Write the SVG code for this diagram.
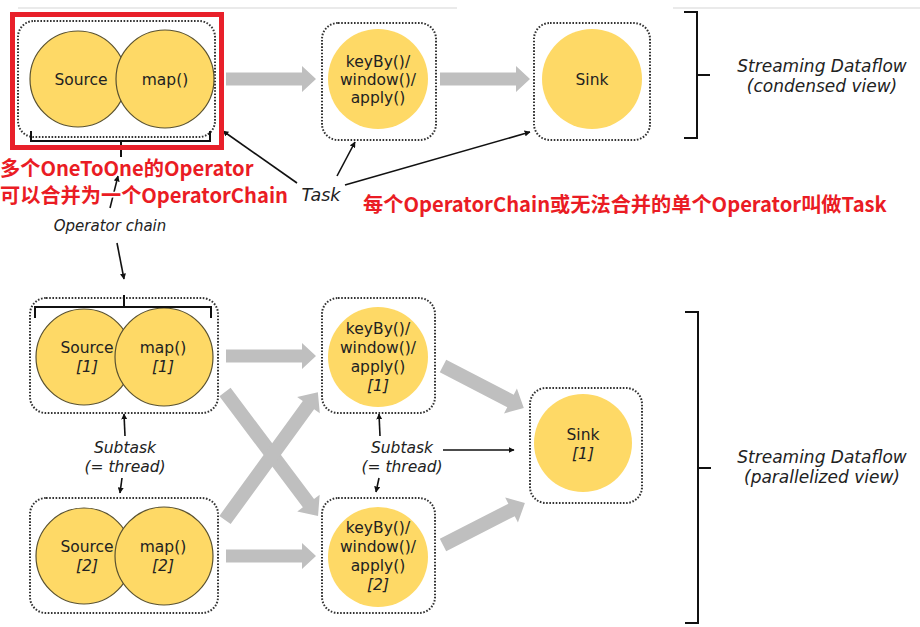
<svg xmlns="http://www.w3.org/2000/svg" width="920" height="627" viewBox="0 0 920 627">
<defs>
<style>
.box{fill:#fff;stroke:#333;stroke-width:2;stroke-dasharray:1.6 1.6}
.op{fill:#fed966;stroke:#5a5230;stroke-width:1.2}
.opn{fill:#fed966}
.t{font-family:"DejaVu Sans",Verdana,sans-serif;font-size:15.5px;fill:#222;text-anchor:middle}
.i{font-style:italic}
.lbl{font-family:"DejaVu Sans",Verdana,sans-serif;font-style:italic;fill:#222;text-anchor:middle}
.flow{fill:#bfbfbf}
.ln{fill:none;stroke:#111;stroke-width:1.6}
.br{fill:none;stroke:#111;stroke-width:2}
.red{font-family:"Noto Sans CJK SC","Noto Sans",sans-serif;font-weight:bold;font-size:20.2px;fill:#ea1c24;stroke:#fff;stroke-width:3;paint-order:stroke;stroke-linejoin:round}
</style>
<marker id="ah" viewBox="0 0 10 10" refX="9" refY="5" markerWidth="6" markerHeight="6" orient="auto" markerUnits="userSpaceOnUse">
<path d="M0,0 L10,5 L0,10 Z" fill="#111"/>
</marker>
<path id="fl90" d="M0,-6.5 H76 V-13 L90,0 L76,13 V6.5 H0 Z"/>
</defs>
<rect width="920" height="627" fill="#fff"/>
<path d="M18,8 H457 M673,8 H920" stroke="#e3e3e3" stroke-width="1.5"/>

<!-- connectors -->
<g id="connectors">
<use href="#fl90" class="flow" x="226" y="79"/>
<use href="#fl90" class="flow" x="440" y="79"/>
<use href="#fl90" class="flow" x="226" y="356"/>
<use href="#fl90" class="flow" x="226" y="556"/>
<path class="flow" transform="translate(225,392) rotate(53.1)" d="M0,-7 H139 V-14 L155,0 L139,14 V7 H0 Z"/>
<path class="flow" transform="translate(225,520) rotate(-54)" d="M0,-7 H142 V-14 L158,0 L142,14 V7 H0 Z"/>
<path class="flow" transform="translate(443,366) rotate(27.4)" d="M0,-7 H76 V-14 L91,0 L76,14 V7 H0 Z"/>
<path class="flow" transform="translate(443,545) rotate(-27.1)" d="M0,-7 H77 V-14 L92,0 L77,14 V7 H0 Z"/>
<line class="ln" x1="297" y1="183" x2="223" y2="131" marker-end="url(#ah)"/>
<line class="ln" x1="337" y1="176" x2="355" y2="142" marker-end="url(#ah)"/>
<line class="ln" x1="345" y1="185" x2="530" y2="132" marker-end="url(#ah)"/>
<line class="ln" x1="110" y1="208" x2="118" y2="176" marker-end="url(#ah)"/>
<line class="ln" x1="117" y1="243" x2="124" y2="279" marker-end="url(#ah)"/>
<line class="ln" x1="125" y1="436" x2="124" y2="414" marker-end="url(#ah)"/>
<line class="ln" x1="122" y1="478" x2="120" y2="493" marker-end="url(#ah)"/>
<line class="ln" x1="380" y1="436" x2="379" y2="414" marker-end="url(#ah)"/>
<line class="ln" x1="379" y1="478" x2="376" y2="492" marker-end="url(#ah)"/>
<line class="ln" x1="443" y1="450" x2="514" y2="450" marker-end="url(#ah)"/>
</g>

<!-- top chain -->
<g id="chain-top">
<rect class="box" x="18" y="21" width="197" height="116" rx="16"/>
<circle class="op" cx="78" cy="79" r="48"/>
<text class="t" x="81" y="85">Source</text>
<circle class="op" cx="165" cy="79" r="49"/>
<text class="t" x="165" y="85">map()</text>
<path class="br" d="M31,131 V141 H210 V131 M121,141 V157"/>
<rect x="12.5" y="14.5" width="209" height="133" fill="none" stroke="#e8202a" stroke-width="5"/>
</g>
<g id="keyby-top">
<rect class="box" x="322" y="23" width="114" height="117" rx="16"/>
<circle class="opn" cx="378" cy="79" r="50"/>
<text class="t" x="378" y="67">keyBy()/</text>
<text class="t" x="378" y="85">window()/</text>
<text class="t" x="378" y="103">apply()</text>
</g>
<g id="sink-top">
<rect class="box" x="534" y="23" width="116" height="117" rx="16"/>
<circle class="opn" cx="592" cy="79" r="50"/>
<text class="t" x="592" y="85">Sink</text>
</g>
<g id="brace-top">
<path class="br" d="M684,12 H697 V75 H710 M697,75 V138 H684"/>
<text class="lbl" x="822" y="72" font-size="17">Streaming Dataflow</text>
<text class="lbl" x="822" y="92" font-size="17">(condensed view)</text>
</g>

<g id="labels">
<text class="lbl" x="321" y="201" font-size="17.5">Task</text>
<text class="lbl" x="110" y="231" font-size="15">Operator chain</text>
<text class="red" x="0" y="176">多个OneToOne的Operator</text>
<text class="red" x="0" y="203">可以合并为一个OperatorChain</text>
<text class="red" x="363" y="212">每个OperatorChain或无法合并的单个Operator叫做Task</text>
<text class="lbl" x="125" y="453" font-size="15.5">Subtask</text>
<text class="lbl" x="125" y="472" font-size="15.5">(= thread)</text>
<text class="lbl" x="402" y="453" font-size="15.5">Subtask</text>
<text class="lbl" x="402" y="472" font-size="15.5">(= thread)</text>
</g>

<!-- bottom -->
<g id="chain-1">
<rect class="box" x="30" y="298" width="188" height="115" rx="16"/>
<circle class="op" cx="84" cy="357" r="48"/>
<text class="t" x="87" y="353">Source</text>
<text class="t i" x="87" y="372">[1]</text>
<circle class="op" cx="164" cy="357" r="49"/>
<text class="t" x="163" y="353">map()</text>
<text class="t i" x="163" y="372">[1]</text>
<path class="br" d="M35,318 V307 H211 V318 M124,307 V295"/>
</g>
<g id="chain-2">
<rect class="box" x="30" y="498" width="188" height="115" rx="16"/>
<circle class="op" cx="84" cy="556" r="48"/>
<text class="t" x="87" y="552">Source</text>
<text class="t i" x="87" y="571">[2]</text>
<circle class="op" cx="164" cy="556" r="49"/>
<text class="t" x="163" y="552">map()</text>
<text class="t i" x="163" y="571">[2]</text>
</g>
<g id="keyby-1">
<rect class="box" x="322" y="298" width="113" height="115" rx="16"/>
<circle class="opn" cx="378" cy="357" r="50"/>
<text class="t" x="378" y="334">keyBy()/</text>
<text class="t" x="378" y="353">window()/</text>
<text class="t" x="378" y="372">apply()</text>
<text class="t i" x="378" y="391">[1]</text>
</g>
<g id="keyby-2">
<rect class="box" x="322" y="498" width="113" height="115" rx="16"/>
<circle class="opn" cx="378" cy="557" r="50"/>
<text class="t" x="378" y="533">keyBy()/</text>
<text class="t" x="378" y="552">window()/</text>
<text class="t" x="378" y="571">apply()</text>
<text class="t i" x="378" y="590">[2]</text>
</g>
<g id="sink-1">
<rect class="box" x="530" y="388" width="112" height="115" rx="16"/>
<circle class="opn" cx="583" cy="443" r="49"/>
<text class="t" x="583" y="440">Sink</text>
<text class="t i" x="583" y="459">[1]</text>
</g>
<g id="brace-bottom">
<path class="br" d="M685,312 H698 V468 H711 M698,468 V623 H685"/>
<text class="lbl" x="822" y="463" font-size="17">Streaming Dataflow</text>
<text class="lbl" x="822" y="483" font-size="17">(parallelized view)</text>
</g>
</svg>
